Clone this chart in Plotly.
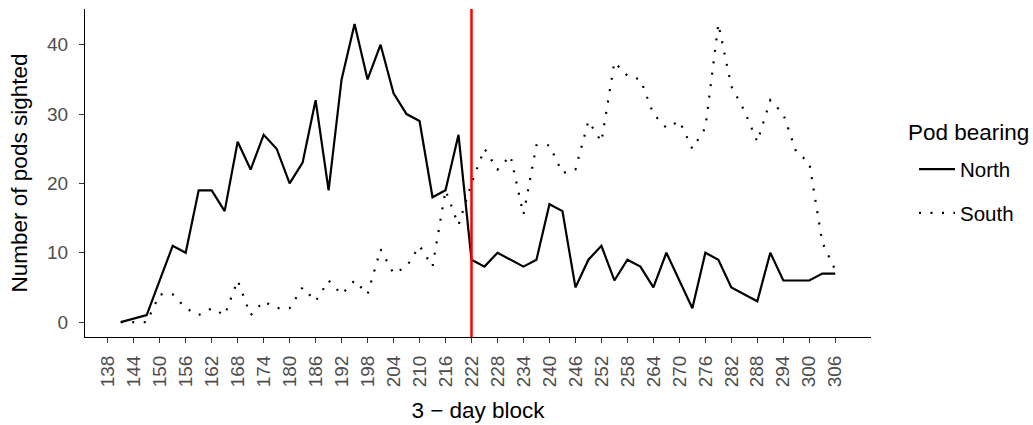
import plotly.graph_objects as go

# 3-day blocks (day of year at block start)
days = list(range(141, 307, 3))

north = [0, 0.5, 1, 6, 11, 10, 19, 19, 16, 26, 22, 27, 25, 20, 23, 32, 19, 35, 43, 35,
         40, 33, 30, 29, 18, 19, 27, 9, 8, 10, 9, 8, 9, 17, 16, 5, 9, 11, 6, 9,
         8, 5, 10, 6, 2, 10, 9, 5, 4, 3, 10, 6, 6, 6, 7, 7]

south = [0, 0, 0, 4, 4, 2, 1, 2, 1, 6, 1, 3, 2, 2, 5, 3, 6, 4, 6, 4,
         10.5, 7, 8, 11, 8, 19, 14, 20, 25, 22, 24, 15.5, 25.5, 25.5, 21.5, 22, 29, 26, 37.5, 35.5,
         35, 30, 28, 29, 25, 28, 43, 34, 30.5, 26, 32, 30, 24.5, 23, 11.5, 7.5]

x_ticks = list(range(138, 307, 6))
y_ticks = [0, 10, 20, 30, 40]
split_day = 222

FONT = "Liberation Sans, Arial, Helvetica, sans-serif"

fig = go.Figure()
fig.add_trace(go.Scatter(x=days, y=north, mode="lines", name="North", legendgroup="N",
                         line=dict(color="black", width=2.2)))
fig.add_trace(go.Scatter(x=days, y=south, mode="lines", name="South", legendgroup="S",
                         line=dict(color="black", width=2.2, dash="2px,9.5px")))

fig.add_shape(type="line", x0=split_day, x1=split_day, xref="x", y0=0, y1=1, yref="paper",
              line=dict(color="#FF0000", width=2.5))

# legend title
fig.add_annotation(text="Pod bearing", xref="paper", yref="paper", x=1.045, y=0.622,
                   xanchor="left", yanchor="middle", showarrow=False,
                   font=dict(size=22.5, color="black", family=FONT))

fig.update_layout(
    width=1033, height=425,
    margin=dict(l=85, r=162, t=9, b=88, autoexpand=False),
    paper_bgcolor="white", plot_bgcolor="white",
    font=dict(family=FONT, color="black"),
    showlegend=True,
    legend=dict(
        font=dict(size=20.5, color="black"),
        x=1.0547, xanchor="left", y=0.572, yanchor="top",
        tracegroupgap=14, itemwidth=36, bgcolor="rgba(0,0,0,0)",
    ),
)

fig.update_xaxes(
    range=[132.75, 314.25], tickvals=x_ticks, ticktext=[str(t) for t in x_ticks],
    tickangle=-90, ticks="outside", ticklen=5, tickwidth=1.1, tickcolor="#333333",
    showline=True, linecolor="black", linewidth=1.1, showgrid=False, zeroline=False,
    tickfont=dict(size=19, color="#4D4D4D"), ticklabelstandoff=5, automargin=False,
    title=dict(text="3 − day block", font=dict(size=22.5, color="black"), standoff=15),
)
fig.update_yaxes(
    range=[-2.15, 45.15], tickvals=y_ticks, ticks="outside", ticklen=5, tickwidth=1.1,
    tickcolor="#333333", showline=True, linecolor="black", linewidth=1.1,
    showgrid=False, zeroline=False, automargin=False,
    tickfont=dict(size=19, color="#4D4D4D"), ticklabelstandoff=7,
    title=dict(text="Number of pods sighted", font=dict(size=22.5, color="black"), standoff=13),
)

fig.write_html("out.html")
